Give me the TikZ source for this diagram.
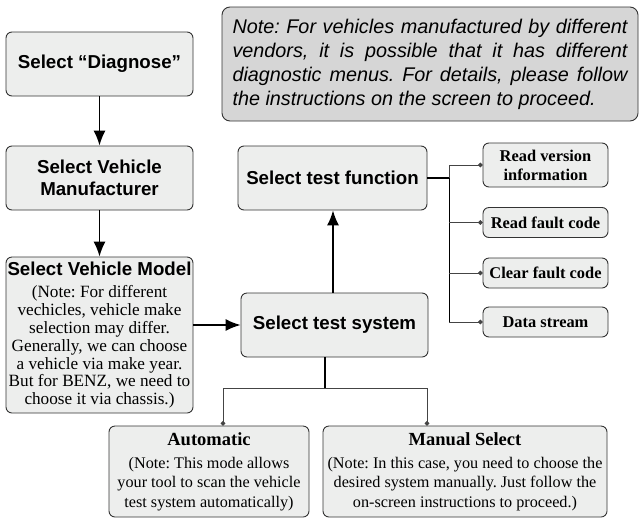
\documentclass[tikz,border=0pt]{standalone}
\usepackage{fontspec}
\setmainfont{Liberation Serif}
\setsansfont{Liberation Sans}
\usetikzlibrary{arrows.meta}
\frenchspacing

\definecolor{boxfill}{HTML}{EDEEED}
\definecolor{notefill}{HTML}{D6D6D6}
\definecolor{linegray}{HTML}{444444}

\tikzset{
  box/.style={draw=black!80, fill=boxfill, rounded corners=6pt, line width=0.9pt, align=center, inner sep=0pt},
  mainbox/.style={box, minimum width=187pt, minimum height=64pt, font=\sffamily\bfseries\fontsize{18.7}{22}\selectfont},
  funcbox/.style={box, minimum width=125pt, font=\bfseries\fontsize{16.4}{19}\selectfont},
  notebox/.style={box, font=\fontsize{16.2}{19.5}\selectfont},
  flow/.style={line width=1.4pt, -{Latex[length=15pt,width=12pt]}},
  trunk/.style={line width=1.4pt},
  branch/.style={draw=linegray, line width=1pt, -{Circle[length=4.5pt]}},
}

\begin{document}
\begin{tikzpicture}[x=1pt,y=-1pt]
        \useasboundingbox (0,0) rectangle (639,520);

        % left column
        \node[mainbox] (diag) at (99.5,64) {Select “Diagnose”};
        \node[mainbox] (manu) at (99.5,178) {Select Vehicle\\Manufacturer};
        \node[box, minimum width=187pt, minimum height=156pt, font=\fontsize{17.2}{17.8}\selectfont] (model) at (99.5,335)
            {{\sffamily\bfseries\fontsize{18.7}{22}\selectfont Select Vehicle Model}\\[5pt]
             (Note: For different\\vechicles, vehicle make\\selection may differ.\\Generally, we can choose\\a vehicle via make year.\\But for BENZ, we need to\\choose it via chassis.)};

        % note
        \node[box, fill=notefill, rounded corners=8pt, minimum width=416pt, minimum height=114pt, inner xsep=10.5pt,
              text width=395pt, align=justify, font=\sffamily\itshape\fontsize{19.8}{24}\selectfont] (note) at (430,64)
            {Note: For vehicles manufactured by different\linebreak
             vendors, it is possible that it has different\linebreak
             diagnostic menus. For details, please follow\linebreak
             the instructions on the screen to proceed.};

        % middle column
        \node[mainbox, minimum width=189pt] (func) at (332.5,178) {Select test function};
        \node[mainbox] (sys) at (334.5,325) {Select test system};

        % functions
        \node[funcbox, minimum height=44pt] (rv) at (545.5,165) {Read version\\information};
        \node[funcbox, minimum height=30pt] (rf) at (545.5,222.5) {Read fault code};
        \node[funcbox, minimum height=30pt] (cf) at (545.5,273) {Clear fault code};
        \node[funcbox, minimum height=30pt] (ds) at (545.5,322) {Data stream};

        % modes
        \node[notebox, minimum width=200pt, minimum height=91pt] (auto) at (209,471.5)
            {{\bfseries\fontsize{18.5}{20}\selectfont Automatic}\\[3.5pt]
             (Note: This mode allows\\your tool to scan the vehicle\\test system automatically)};
        \node[notebox, minimum width=284pt, minimum height=91pt] (man) at (465,471.5)
            {{\bfseries\fontsize{18.5}{20}\selectfont Manual Select}\\[3.5pt]
             (Note: In this case, you need to choose the\\desired system manually. Just follow the\\on-screen instructions to proceed.)};

        % connectors
        \draw[flow] (diag) -- (manu);
        \draw[flow] (manu) -- (model);
        \draw[flow] (model.east |- sys.west) -- (sys.west);
        \draw[flow] ([xshift=-1.5pt]sys.north) -- ([xshift=-1.5pt]sys.north |- func.south);

        \draw[trunk] (func.east) -- ++(22,0) coordinate (fork);
        \draw[trunk] (fork) -- (fork |- ds);
        \draw[branch] (fork) |- (rv.west);
        \foreach \f in {rf,cf,ds}
            \draw[branch] (fork |- \f) -- (\f.west);

        \draw[trunk] ([xshift=-9.5pt]sys.south) -- ++(0,31) coordinate (split);
        \draw[branch] (split) -| ([xshift=14pt]auto.north);
        \draw[branch] (split) -| ([xshift=-38pt]man.north);

    \end{tikzpicture}
\end{document}
